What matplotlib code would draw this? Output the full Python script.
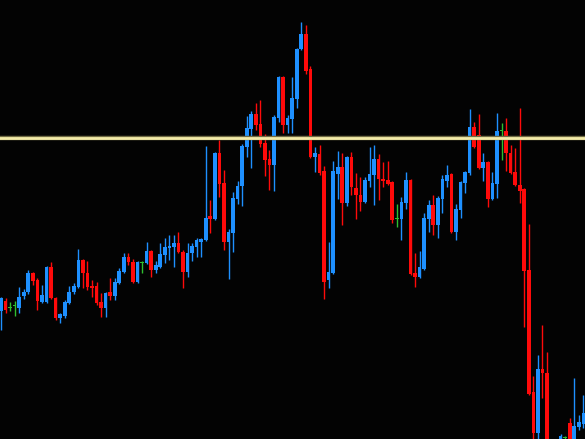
import matplotlib
matplotlib.use("Agg")
import matplotlib.pyplot as plt
import numpy as np

# OHLC candles, oldest first (arbitrary price units)
opens = [189, 199, 192, 194, 192, 204, 208, 227, 220, 198, 198, 233, 202, 182, 184, 197, 208, 213, 240, 227,
         214, 214, 198, 192, 208, 204, 217, 228, 243, 238, 218, 237, 237, 249, 230, 233, 245, 252, 253, 257,
         248, 228, 247, 253, 258, 260, 284, 281, 347, 317, 258, 267, 301, 314, 353, 371, 386, 376, 357, 341,
         335, 382, 423, 375, 381, 401, 451, 466, 431, 343, 346, 329, 220, 227, 326, 333, 297, 343, 312, 305,
         298, 319, 325, 341, 321, 320, 318, 281, 281, 297, 320, 227, 223, 231, 281, 295, 275, 301, 319, 326,
         268, 290, 317, 327, 373, 365, 332, 338, 301, 316, 369, 369, 347, 328, 315, 311, 230, 108, 67, 131,
         127, 50, 30, 58, 62, 77, 50, 73, 76]
highs = [203, 202, 198, 199, 213, 211, 230, 228, 222, 215, 234, 238, 203, 187, 200, 214, 217, 251, 241, 239,
         220, 218, 207, 208, 222, 222, 232, 247, 247, 241, 239, 239, 258, 250, 239, 257, 262, 265, 265, 268,
         250, 257, 257, 262, 262, 354, 300, 348, 360, 330, 271, 308, 319, 356, 384, 389, 397, 400, 366, 350,
         385, 424, 424, 385, 423, 452, 478, 475, 434, 353, 355, 334, 258, 339, 349, 347, 344, 348, 327, 323,
         323, 353, 355, 346, 338, 339, 319, 296, 303, 328, 321, 247, 249, 287, 300, 305, 304, 325, 335, 327,
         296, 319, 329, 391, 378, 386, 347, 339, 328, 387, 377, 382, 355, 352, 392, 312, 276, 124, 145, 175,
         148, 55, 60, 66, 64, 82, 122, 85, 105]
lows = [170, 187, 189, 184, 187, 201, 206, 215, 190, 197, 197, 201, 180, 177, 182, 196, 206, 212, 212, 210,
        203, 195, 183, 183, 200, 200, 216, 227, 235, 217, 217, 227, 236, 223, 227, 232, 237, 240, 233, 247,
        212, 223, 239, 243, 243, 259, 267, 280, 303, 250, 221, 248, 296, 294, 343, 332, 370, 353, 324, 310,
        309, 378, 367, 367, 367, 392, 450, 426, 342, 328, 325, 201, 212, 226, 301, 275, 294, 305, 281, 289,
        297, 313, 295, 300, 313, 315, 277, 273, 260, 291, 225, 213, 222, 230, 268, 265, 262, 287, 313, 267,
        260, 282, 307, 325, 352, 331, 319, 293, 300, 302, 340, 329, 326, 314, 297, 173, 105, 55, 55, 102,
        40, 20, 25, 55, 59, 45, 45, 70, 72]
closes = [202, 190, 192, 194, 203, 208, 227, 219, 199, 205, 233, 202, 182, 186, 198, 208, 214, 240, 227, 213,
          212, 197, 192, 207, 204, 218, 229, 243, 238, 218, 238, 237, 249, 230, 235, 246, 253, 254, 257, 248,
          228, 247, 254, 260, 261, 282, 281, 347, 316, 258, 268, 302, 314, 354, 372, 386, 375, 356, 340, 335,
          383, 423, 375, 382, 402, 451, 466, 429, 343, 347, 327, 218, 228, 329, 333, 297, 343, 313, 305, 298,
          320, 326, 341, 321, 319, 316, 280, 281, 298, 320, 226, 223, 233, 282, 295, 275, 302, 321, 325, 268,
          291, 318, 328, 373, 353, 332, 338, 301, 317, 369, 369, 347, 327, 315, 309, 229, 106, 67, 131, 127,
          50, 30, 55, 64, 62, 50, 74, 78, 87]
resistance = 361.5

UP = "#1e90ff"
DOWN = "#ff0a0a"
FLAT = "#2fbf2f"

o = np.array(opens, dtype=float)
h = np.array(highs, dtype=float)
l = np.array(lows, dtype=float)
c = np.array(closes, dtype=float)
x = np.arange(len(o))
colors = [UP if cc > oo else DOWN if cc < oo else FLAT for oo, cc in zip(o, c)]

fig = plt.figure(figsize=(5.85, 4.391), dpi=100, facecolor="#030303")
ax = fig.add_axes([0, 0, 1, 1])
ax.set_facecolor("#030303")

ax.vlines(x, l, h, colors=colors, linewidth=1.0, zorder=2)
body_bottom = np.minimum(o, c)
body_height = np.maximum(np.abs(c - o), 0.9)
ax.bar(x, body_height, bottom=body_bottom, width=0.8, color=colors, linewidth=0, zorder=3)

ax.axhline(resistance, color="#6f6a44", linewidth=3.2, zorder=4)
ax.axhline(resistance, color="#f4eca9", linewidth=2.0, zorder=5)

ax.set_xlim(-0.22, 128.35)
ax.set_ylim(61, 500)
ax.axis("off")

fig.savefig("out.png", dpi=100, facecolor=fig.get_facecolor())
plt.close(fig)
